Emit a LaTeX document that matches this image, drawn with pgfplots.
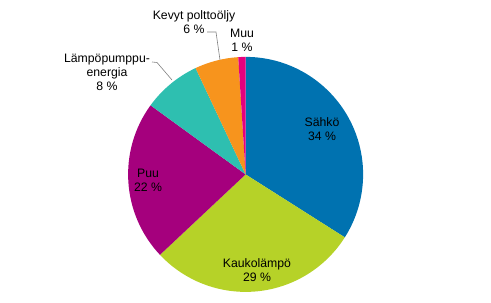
\documentclass[border=0pt]{standalone}
\usepackage{pgfplots}
\pgfplotsset{compat=1.18}
\usepackage{pgfplotstable}
\usepackage{fontspec}
\setmainfont{Liberation Sans}
\definecolor{c1}{RGB}{0,114,176}
\definecolor{c2}{RGB}{182,210,40}
\definecolor{c3}{RGB}{165,0,125}
\definecolor{c4}{RGB}{46,191,176}
\definecolor{c5}{RGB}{247,148,29}
\definecolor{c6}{RGB}{230,0,126}
\pgfplotstableread{
pct col
34 c1
29 c2
22 c3
8 c4
6 c5
1 c6
}\piedata
\begin{document}
\begin{tikzpicture}
\begin{axis}[
  scale only axis, width=491bp, height=303bp,
  xmin=0, xmax=491, ymin=0, ymax=303,
  hide axis, clip=false,
]
\addplot[draw=none] coordinates {(0,0) (491,303)};
\pgfplotstablegetrowsof{\piedata}
\pgfmathtruncatemacro{\nrows}{\pgfplotsretval-1}
\def\cum{0}
\pgfplotsforeachungrouped \i in {0,...,\nrows}{%
  \pgfplotstablegetelem{\i}{pct}\of{\piedata}\let\val\pgfplotsretval
  \pgfplotstablegetelem{\i}{col}\of{\piedata}\let\colname\pgfplotsretval
  \pgfmathsetmacro{\startang}{90-3.6*\cum}
  \pgfmathsetmacro{\endang}{90-3.6*(\cum+\val)}
  \edef\temp{\noexpand\fill[\colname] (axis cs:245.6,128.6) -- ++(\startang:117.5bp) arc[start angle=\startang, end angle=\endang, radius=117.5bp] -- cycle;}
  \temp
  \pgfmathsetmacro{\newcum}{\cum+\val}
  \global\let\cum\newcum
}
\tikzset{lab/.style={align=center, font=\fontsize{12.3}{14.2}\selectfont, inner sep=0pt}}
\node[lab] at (axis cs:322,173.5) {Sähkö\\34 \%};
\node[lab] at (axis cs:257,32.5) {Kaukolämpö\\29 \%};
\node[lab] at (axis cs:148,123) {Puu\\22 \%};
\node[lab] at (axis cs:107,231) {Lämpöpumppu-\\energia\\8 \%};
\node[lab] at (axis cs:194,280.5) {Kevyt polttoöljy\\6 \%};
\node[lab] at (axis cs:242,263) {Muu\\1 \%};
\draw[gray, line width=0.6pt] (axis cs:152,241) -- (axis cs:157,240.5) -- (axis cs:172,223);
\draw[gray, line width=0.6pt] (axis cs:207,271) -- (axis cs:216,271) -- (axis cs:220,243);
\end{axis}
\end{tikzpicture}
\end{document}
